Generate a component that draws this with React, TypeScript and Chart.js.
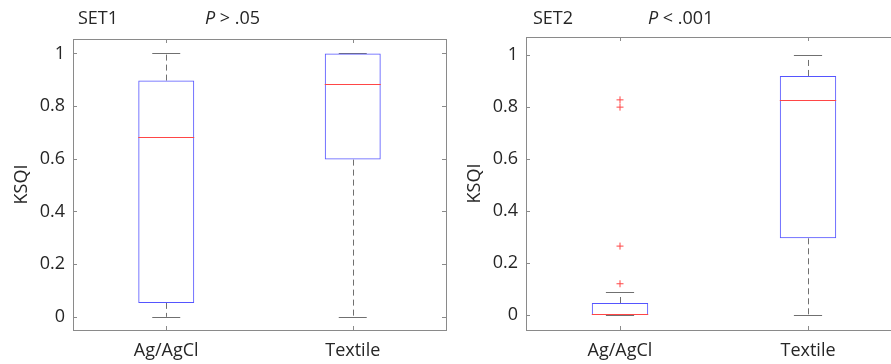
import React, { useEffect, useRef } from 'react';
import { Chart, registerables } from 'chart.js';

Chart.register(...registerables);

// ---------- data ----------
const categories = ['Ag/AgCl', 'Textile'];
const yTickValues = [0, 0.2, 0.4, 0.6, 0.8, 1];

const set1Low = [0, 0];
const set1Q1 = [0.053, 0.597];
const set1Median = [0.68, 0.882];
const set1Q3 = [0.897, 1.0];
const set1High = [1.0, 1.0];
const set1OutlierCat: string[] = [];
const set1OutlierVal: number[] = [];

const set2Low = [0, 0];
const set2Q1 = [0, 0.295];
const set2Median = [0, 0.822];
const set2Q3 = [0.046, 0.92];
const set2High = [0.088, 1.0];
const set2OutlierCat = ['Ag/AgCl', 'Ag/AgCl', 'Ag/AgCl', 'Ag/AgCl'];
const set2OutlierVal = [0.12, 0.265, 0.8, 0.828];

const FONT = "'Open Sans', 'Noto Sans', sans-serif";
const TEXT = '#262626';
const BLUE = 'rgb(85,85,255)';
const RED = 'rgb(255,70,70)';
const GREY = '#707070';
const FRAME = '#8a8a8a';

type Panel = {
  name: string;
  pRest: string;
  nameX: number;
  pX: number;
  left: number;
  width: number;
  yAxisWidth: number;
  padRight: number;
  padTop: number;
  yMin: number;
  yMax: number;
  low: number[];
  q1: number[];
  median: number[];
  q3: number[];
  high: number[];
  outCat: string[];
  outVal: number[];
};

const panels: Panel[] = [
  {
    name: 'SET1', pRest: ' > .05', nameX: 78, pX: 205,
    left: 0, width: 455, yAxisWidth: 73, padRight: 9, padTop: 39,
    yMin: -0.05, yMax: 1.055,
    low: set1Low, q1: set1Q1, median: set1Median, q3: set1Q3, high: set1High,
    outCat: set1OutlierCat, outVal: set1OutlierVal,
  },
  {
    name: 'SET2', pRest: ' < .001', nameX: 533, pX: 648,
    left: 455, width: 455, yAxisWidth: 71, padRight: 8, padTop: 37,
    yMin: -0.058, yMax: 1.07,
    low: set2Low, q1: set2Q1, median: set2Median, q3: set2Q3, high: set2High,
    outCat: set2OutlierCat, outVal: set2OutlierVal,
  },
];

const H = 364;
const X_AXIS_H = 34;

function makePlugin(p: Panel) {
  const line = (ctx: CanvasRenderingContext2D, x1: number, y1: number, x2: number, y2: number) => {
    ctx.beginPath();
    ctx.moveTo(x1, y1);
    ctx.lineTo(x2, y2);
    ctx.stroke();
  };
  return {
    id: 'boxExtras' + p.name,
    beforeDatasetsDraw(chart: any) {
      const ctx: CanvasRenderingContext2D = chart.ctx;
      const y = chart.scales.y;
      const meta = chart.getDatasetMeta(0);
      ctx.save();
      ctx.lineWidth = 1;
      meta.data.forEach((el: any, i: number) => {
        const cx = Math.round(el.x) + 0.5;
        const capHalf = el.width / 4;
        const pLow = y.getPixelForValue(p.low[i]);
        const pQ1 = y.getPixelForValue(p.q1[i]);
        const pQ3 = y.getPixelForValue(p.q3[i]);
        const pHigh = y.getPixelForValue(p.high[i]);
        ctx.strokeStyle = GREY;
        ctx.setLineDash([6, 4]);
        if (pHigh < pQ3) line(ctx, cx, pQ3, cx, pHigh);
        if (pLow > pQ1) line(ctx, cx, pQ1, cx, pLow);
        ctx.setLineDash([]);
        const yl = Math.round(pLow) + 0.5;
        const yh = Math.round(pHigh) + 0.5;
        line(ctx, el.x - capHalf, yl, el.x + capHalf, yl);
        line(ctx, el.x - capHalf, yh, el.x + capHalf, yh);
      });
      ctx.restore();
    },
    afterDatasetsDraw(chart: any) {
      const ctx: CanvasRenderingContext2D = chart.ctx;
      const { left, right, top, bottom } = chart.chartArea;
      const x = chart.scales.x;
      const y = chart.scales.y;
      const meta = chart.getDatasetMeta(0);
      ctx.save();
      ctx.lineWidth = 1;
      // medians
      ctx.strokeStyle = RED;
      meta.data.forEach((el: any, i: number) => {
        let pm = Math.round(y.getPixelForValue(p.median[i])) - 0.5;
        line(ctx, el.x - el.width / 2, pm, el.x + el.width / 2, pm);
      });
      // frame
      ctx.strokeStyle = FRAME;
      ctx.strokeRect(Math.round(left) + 0.5, Math.round(top) + 0.5, Math.round(right - left), Math.round(bottom - top));
      // inward ticks
      yTickValues.forEach((v) => {
        const py = Math.round(y.getPixelForValue(v)) + 0.5;
        line(ctx, left, py, left + 4, py);
        line(ctx, right - 4, py, right, py);
      });
      categories.forEach((_c, i) => {
        const px = Math.round(x.getPixelForValue(i)) + 0.5;
        line(ctx, px, bottom, px, bottom - 4);
        line(ctx, px, top, px, top + 4);
      });
      // titles
      ctx.fillStyle = TEXT;
      ctx.textBaseline = 'alphabetic';
      ctx.textAlign = 'left';
      ctx.font = `18px ${FONT}`;
      const off = p.left;
      ctx.fillText(p.name, p.nameX - off, 24);
      ctx.font = `italic 18px ${FONT}`;
      ctx.fillText('P', p.pX - off, 24);
      const pw = ctx.measureText('P').width;
      ctx.font = `18px ${FONT}`;
      ctx.fillText(p.pRest, p.pX - off + pw, 24);
      // y title
      ctx.save();
      ctx.translate(left - 51.5, (top + bottom) / 2);
      ctx.rotate(-Math.PI / 2);
      ctx.textAlign = 'center';
      ctx.textBaseline = 'middle';
      ctx.fillText('KSQI', 0, 0);
      ctx.restore();
      ctx.restore();
    },
  };
}

function BoxPanel({ p }: { p: Panel }) {
  const ref = useRef<HTMLCanvasElement | null>(null);
  useEffect(() => {
    if (!ref.current) return;
    const boxes = categories.map((_c, i) => [p.q1[i], p.q3[i]]);
    const outliers = p.outCat.map((c, i) => ({ x: c, y: p.outVal[i] }));
    const chart = new Chart(ref.current, {
      data: {
        labels: categories,
        datasets: [
          {
            type: 'bar',
            data: boxes as any,
            backgroundColor: 'rgba(0,0,0,0)',
            borderColor: BLUE,
            borderWidth: 1,
            borderSkipped: false,
            categoryPercentage: 1,
            barPercentage: 0.3,
          } as any,
          {
            type: 'line',
            data: outliers as any,
            showLine: false,
            pointStyle: 'cross',
            pointRadius: 3.5,
            pointBorderColor: RED,
            pointBorderWidth: 1,
            pointBackgroundColor: RED,
          } as any,
        ],
      },
      options: {
        animation: false,
        responsive: false,
        devicePixelRatio: 1,
        layout: { padding: { left: 0, right: p.padRight, top: p.padTop, bottom: 0 } },
        plugins: { legend: { display: false }, tooltip: { enabled: false } },
        scales: {
          x: {
            type: 'category',
            offset: true,
            grid: { display: false, drawTicks: false },
            border: { display: false },
            ticks: { color: TEXT, font: { family: FONT, size: 18 }, padding: 10, maxRotation: 0 },
            afterFit: (s: any) => { s.height = X_AXIS_H; },
          },
          y: {
            type: 'linear',
            min: p.yMin,
            max: p.yMax,
            grid: { display: false, drawTicks: false },
            border: { display: false },
            ticks: {
              stepSize: 0.2,
              includeBounds: false,
              color: TEXT,
              font: { family: FONT, size: 18 },
              padding: 8,
              callback: (v: any) => String(Math.round(Number(v) * 10) / 10),
            },
            afterFit: (s: any) => { s.width = p.yAxisWidth; },
          },
        },
      } as any,
      plugins: [makePlugin(p)],
    });
    return () => chart.destroy();
  }, [p]);
  return (
    <canvas
      ref={ref}
      width={p.width}
      height={H}
      style={{ position: 'absolute', left: p.left, top: 0, width: p.width, height: H }}
    />
  );
}

export default function App() {
  return (
    <div
      style={{
        position: 'fixed', left: 0, top: 0, width: 891, height: H,
        overflow: 'hidden', background: '#ffffff',
      }}
    >
      {panels.map((p) => <BoxPanel key={p.name} p={p} />)}
    </div>
  );
}
